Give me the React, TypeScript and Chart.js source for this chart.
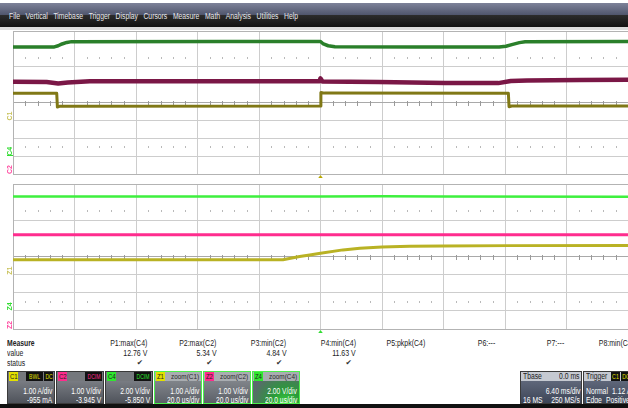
import React, { useEffect, useRef } from "react";
import { Chart, registerables } from "chart.js";
Chart.register(...registerables);

// ---------- channel settings (V or A per division, offsets) ----------
const c1PerDiv = 1.0; // A/div
const c1Offset = -0.955; // A
const c2PerDiv = 1.0; // V/div
const c2Offset = -3.945; // V
const c4PerDiv = 2.0; // V/div
const c4Offset = -5.85; // V

// ---------- top grid: 6.40 ms/div, trigger at centre (ms) ----------
const topTimeRange = [-32, 32];
const c1TopTime = [-32, -27.45, -27.38, -27.1, -0.02, 0.04, 0.4, 19.55, 19.62, 19.9, 32];
const c1TopAmp = [1.47, 1.47, 0.7, 0.75, 0.76, 1.52, 1.48, 1.47, 0.72, 0.76, 0.76];
const c2TopTime = [-32, -28.5, -27.3, -26.3, -24, -12, -0.1, 0, 0.2, 6, 13, 18.5, 19.8, 21.5, 27, 32];
const c2TopVolt = [5.1, 5.09, 5.01, 5.06, 5.13, 5.14, 5.13, 5.3, 5.12, 5.09, 5.03, 5.03, 5.15, 5.18, 5.2, 5.22];
const c4TopTime = [-32, -27.7, -27.3, -26.9, -26.4, -25.9, -10, 0, 0.3, 0.8, 1.5, 10, 18.6, 19.3, 20.0, 20.7, 21.3, 32];
const c4TopVolt = [12.06, 12.07, 12.2, 12.4, 12.57, 12.66, 12.68, 12.68, 12.4, 12.2, 12.08, 12.05, 12.05, 12.15, 12.35, 12.55, 12.65, 12.68];

// ---------- bottom grid: zooms, 20.0 µs/div (µs) ----------
const zoomTimeRange = [-100, 100];
const z1Time = [-100, -60, -20, -12.2, -6.8, -3.5, 0, 7.3, 12.8, 20, 29, 40, 61.5, 100];
const z1Amp = [0.77, 0.77, 0.77, 0.78, 0.95, 1.04, 1.14, 1.32, 1.41, 1.485, 1.525, 1.54, 1.555, 1.56];
const z2Time = [-100, -50, 0, 50, 100];
const z2Volt = [5.14, 5.14, 5.14, 5.14, 5.14];
const z4Time = [-100, -40, -20, 0, 20, 40, 100];
const z4Volt = [12.46, 12.46, 12.47, 12.48, 12.49, 12.47, 12.43];

// ---------- grid description (divisions, 0 = bottom) ----------
const gridRows = [0, 1, 2, 3, 4, 6, 8];
const dotRows = [1.5, 6.5];
const tickRow = 4;

// ---------- texts ----------
const menuItems = ["File", "Vertical", "Timebase", "Trigger", "Display", "Cursors", "Measure", "Math", "Analysis", "Utilities", "Help"];
const measureNames = ["P1:max(C4)", "P2:max(C2)", "P3:min(C2)", "P4:min(C4)", "P5:pkpk(C4)", "P6:---", "P7:---", "P8:min(C4)"];
const measureValues = ["12.76 V", "5.34 V", "4.84 V", "11.63 V", "", "", "", ""];
const measureStatus = [true, true, true, true, false, false, false, false];
const boxIds = ["C1", "C2", "C4", "Z1", "Z2", "Z4"];
const boxTags = [["BWL", "DC"], ["DCIM"], ["DCIM"], [], [], []];
const boxTitles = ["", "", "", "zoom(C1)", "zoom(C2)", "zoom(C4)"];
const boxLine1 = ["1.00 A/div", "1.00 V/div", "2.00 V/div", "1.00 A/div", "1.00 V/div", "2.00 V/div"];
const boxLine2 = ["-955 mA", "-3.945 V", "-5.850 V", "20.0 µs/div", "20.0 µs/div", "20.0 µs/div"];

const COL = { c1: "#e2e000", c2: "#ff2a8c", c4: "#2ee82e" };
const FONT = "'Liberation Sans', Arial, sans-serif";

const sq = (k: number, origin: string): React.CSSProperties => ({
  display: "inline-block",
  transform: `scaleX(${k})`,
  transformOrigin: origin,
  whiteSpace: "nowrap",
});

const pts = (t: number[], v: number[]) => t.map((x, i) => ({ x, y: v[i] }));
const chAxis = (offset: number, perDiv: number) => ({
  display: false,
  min: -offset - 4 * perDiv,
  max: -offset + 4 * perDiv,
});

const scopeDecor = {
  id: "scopeDecor",
  beforeDatasetsDraw(chart: any) {
    const o = chart.options.plugins.scopeDecor;
    if (!o) return;
    const { ctx, scales } = chart;
    const xs = scales.x;
    const yg = scales.yg;
    const divW = (xs.max - xs.min) / 10;
    ctx.save();
    ctx.fillStyle = "#b9b9b9";
    for (const row of dotRows) {
      const py = Math.round(yg.getPixelForValue(row));
      for (let d = 0; d < 10; d++)
        for (let k = 1; k < 5; k++) {
          const px = Math.round(xs.getPixelForValue(xs.min + (d + k / 5) * divW));
          ctx.fillRect(px, py - 1, 1, 2);
        }
    }
    const pc = Math.round(yg.getPixelForValue(tickRow));
    ctx.fillStyle = "#9a9a9a";
    for (let d = 0; d < 10; d++)
      for (let k = 1; k < 5; k++) {
        const px = Math.round(xs.getPixelForValue(xs.min + (d + k / 5) * divW));
        ctx.fillRect(px, pc - 2, 1, 5);
      }
    ctx.restore();
  },
  afterDraw(chart: any) {
    const o = chart.options.plugins.scopeDecor;
    if (!o) return;
    const { ctx, scales, chartArea } = chart;
    ctx.save();
    for (const lb of o.labels) {
      const y0 = scales[lb.axis].getPixelForValue(0);
      ctx.save();
      ctx.translate(10, y0 + 1);
      ctx.rotate(-Math.PI / 2);
      ctx.font = "bold 7px " + FONT;
      ctx.fillStyle = lb.color;
      ctx.textAlign = "left";
      ctx.textBaseline = "middle";
      ctx.fillText(lb.text, 0, 0);
      ctx.restore();
      if (lb.underline) {
        ctx.fillStyle = lb.color;
        ctx.fillRect(7, Math.round(y0), 6, 1);
      }
    }
    const px = scales.x.getPixelForValue(0);
    const py = chartArea.bottom + 1;
    ctx.fillStyle = o.markerColor;
    ctx.beginPath();
    ctx.moveTo(px, py);
    ctx.lineTo(px - 3, py + 4);
    ctx.lineTo(px + 3, py + 4);
    ctx.closePath();
    ctx.fill();
    ctx.restore();
  },
};

function makeOptions(range: number[], labels: any[], markerColor: string) {
  return {
    responsive: false,
    maintainAspectRatio: false,
    animation: false as const,
    events: [],
    layout: { padding: { left: 13, right: 0, top: 3, bottom: 4 } },
    plugins: {
      legend: { display: false },
      tooltip: { enabled: false },
      scopeDecor: { labels, markerColor },
    },
    elements: { point: { radius: 0 }, line: { tension: 0, borderJoinStyle: "round" } },
    scales: {
      x: {
        type: "linear",
        min: range[0],
        max: range[1],
        afterBuildTicks: (s: any) => {
          const arr = [];
          for (let i = 0; i <= 10; i++) arr.push({ value: range[0] + (i * (range[1] - range[0])) / 10 });
          s.ticks = arr;
        },
        ticks: { display: false },
        grid: { color: "#cdcdcd", drawTicks: false, lineWidth: 1 },
        border: { display: true, color: "#b3b3b3" },
      },
      yg: {
        type: "linear",
        position: "left",
        min: 0,
        max: 8,
        afterBuildTicks: (s: any) => {
          s.ticks = gridRows.map((v) => ({ value: v }));
        },
        ticks: { display: false },
        grid: {
          drawTicks: false,
          color: (c: any) => (c.tick && c.tick.value === tickRow ? "#a9a9a9" : c.tick && (c.tick.value === 0 || c.tick.value === 8) ? "#b3b3b3" : "#cdcdcd"),
        },
        border: { display: true, color: "#b3b3b3" },
      },
      y1: chAxis(c1Offset, c1PerDiv),
      y2: chAxis(c2Offset, c2PerDiv),
      y4: chAxis(c4Offset, c4PerDiv),
    },
  };
}

function Box({ i }: { i: number }) {
  const id = boxIds[i];
  const isZoom = id.startsWith("Z");
  const color = id.endsWith("1") ? COL.c1 : id.endsWith("2") ? COL.c2 : COL.c4;
  const last = id === "Z4";
  return (
    <div
      style={{
        position: "absolute",
        left: 7 + i * 49,
        top: 371,
        width: 48,
        height: 33,
        boxSizing: "border-box",
        border: isZoom ? "1px solid #4cf04c" : "1px solid #3a3a3a",
        background: last
          ? "radial-gradient(ellipse at 70% 115%, #3fe23f 0%, #2a9a3a 35%, #5e6670 80%)"
          : isZoom
          ? "linear-gradient(#8f9398, #5c6068)"
          : "linear-gradient(#8a8d93, #4f535b)",
        color: "#fff",
        fontFamily: FONT,
        fontSize: 8.5,
        overflow: "hidden",
      }}
    >
      <div style={{ position: "absolute", left: 0, top: 0, right: 0, height: 9, background: isZoom ? "#a9adb1" : "#75787d" }} />
      <div style={{ position: "absolute", left: 1, top: 0, width: 9, height: 9, background: color, color: "#222", fontSize: 7.5, lineHeight: "9px", textAlign: "center" }}>
        <span style={sq(0.8, "center")}>{id}</span>
      </div>
      {boxTags[i].length > 0 && (
        <div style={{ position: "absolute", right: 1, top: 0, display: "flex", gap: 1 }}>
          {boxTags[i].map((t) => (
            <span key={t} style={{ background: "#111", color, fontSize: 7, lineHeight: "9px", width: t.length > 2 ? 17 : 9, textAlign: "center", overflow: "hidden" }}>
              <span style={sq(0.72, "center")}>{t}</span>
            </span>
          ))}
        </div>
      )}
      {boxTitles[i] && (
        <div style={{ position: "absolute", right: 2, top: 0, fontSize: 8, lineHeight: "9px", color: "#2a2a2a" }}>
          <span style={sq(0.8, "right")}>{boxTitles[i]}</span>
        </div>
      )}
      <div style={{ position: "absolute", right: 2, top: 15, lineHeight: "9px" }}>
        <span style={sq(0.78, "right")}>{boxLine1[i]}</span>
      </div>
      <div style={{ position: "absolute", right: 2, top: 24, lineHeight: "9px" }}>
        <span style={sq(0.78, "right")}>{boxLine2[i]}</span>
      </div>
    </div>
  );
}

export default function App() {
  const topRef = useRef<HTMLCanvasElement>(null);
  const botRef = useRef<HTMLCanvasElement>(null);

  useEffect(() => {
    const top = new Chart(topRef.current as HTMLCanvasElement, {
      type: "line",
      data: {
        datasets: [
          { label: "C4", data: pts(c4TopTime, c4TopVolt), yAxisID: "y4", borderColor: "#2a7f2a", borderWidth: 3.5 },
          { label: "C2", data: pts(c2TopTime, c2TopVolt), yAxisID: "y2", borderColor: "#7a1746", borderWidth: 4.5 },
          { label: "C1", data: pts(c1TopTime, c1TopAmp), yAxisID: "y1", borderColor: "#807816", borderWidth: 3 },
        ],
      },
      options: makeOptions(
        topTimeRange,
        [
          { text: "C1", color: "#c9c25a", axis: "y1" },
          { text: "C4", color: "#33dd33", axis: "y4", underline: true },
          { text: "C2", color: "#ff4aa0", axis: "y2" },
        ],
        "#b8a800"
      ) as any,
      plugins: [scopeDecor],
    });
    const bot = new Chart(botRef.current as HTMLCanvasElement, {
      type: "line",
      data: {
        datasets: [
          { label: "Z4", data: pts(z4Time, z4Volt), yAxisID: "y4", borderColor: "#3ef03e", borderWidth: 2.5 },
          { label: "Z2", data: pts(z2Time, z2Volt), yAxisID: "y2", borderColor: "#ff2d8e", borderWidth: 3 },
          { label: "Z1", data: pts(z1Time, z1Amp), yAxisID: "y1", borderColor: "#b9b224", borderWidth: 3 },
        ],
      },
      options: makeOptions(
        zoomTimeRange,
        [
          { text: "Z1", color: "#c9c25a", axis: "y1" },
          { text: "Z4", color: "#33dd33", axis: "y4" },
          { text: "Z2", color: "#ff4aa0", axis: "y2" },
        ],
        "#33dd33"
      ) as any,
      plugins: [scopeDecor],
    });
    return () => {
      top.destroy();
      bot.destroy();
    };
  }, []);

  const colRight = (i: number) => 147 + i * 69.6;

  return (
    <div style={{ position: "fixed", left: 0, top: 0, width: 628, height: 408, overflow: "hidden", background: "#fff", fontFamily: FONT }}>
      {/* menu bar */}
      <div style={{ position: "absolute", left: 0, top: 3, width: 628, height: 12, background: "linear-gradient(#7d8299, #4f556c)" }} />
      <div style={{ position: "absolute", left: 0, top: 15, width: 628, height: 12, background: "linear-gradient(#2c2c2c, #121212)" }} />
      <div style={{ position: "absolute", left: 0, top: 27, width: 628, height: 3, background: "#dcdcdc" }} />
      <div style={{ position: "absolute", left: 9, top: 11, display: "flex", gap: 7, fontSize: 8.5, lineHeight: "10px", color: "#e9e9ee", transform: "scaleX(0.8)", transformOrigin: "left", whiteSpace: "nowrap" }}>
        {menuItems.map((m) => (
          <span key={m}>{m}</span>
        ))}
      </div>

      <canvas ref={topRef} width={628} height={150} style={{ position: "absolute", left: 0, top: 28, width: 628, height: 150 }} />
      <canvas ref={botRef} width={628} height={152} style={{ position: "absolute", left: 0, top: 181, width: 628, height: 152 }} />

      {/* measurement table */}
      <div style={{ position: "absolute", left: 7, top: 338, fontSize: 8.5, lineHeight: "10px", color: "#222" }}>
        <div><span style={{ ...sq(0.8, "left"), fontWeight: "bold" }}>Measure</span></div>
        <div><span style={sq(0.8, "left")}>value</span></div>
        <div><span style={sq(0.8, "left")}>status</span></div>
      </div>
      {measureNames.map((n, i) => (
        <div key={n} style={{ position: "absolute", left: colRight(i) - 69, width: 69, top: 338, textAlign: "right", fontSize: 8.5, lineHeight: "10px", color: "#222" }}>
          <div><span style={sq(0.82, "right")}>{n}</span></div>
          <div><span style={sq(0.82, "right")}>{measureValues[i] || "\u00a0"}</span></div>
          <div style={{ fontFamily: "'DejaVu Sans', sans-serif", fontSize: 7.5, paddingRight: 4, color: "#333" }}>{measureStatus[i] ? "\u2714" : "\u00a0"}</div>
        </div>
      ))}

      {/* channel descriptor boxes */}
      {boxIds.map((_, i) => (
        <Box key={i} i={i} />
      ))}

      {/* timebase */}
      <div style={{ position: "absolute", left: 520, top: 371, width: 62, height: 33, boxSizing: "border-box", border: "1px solid #3a3a3a", background: "linear-gradient(#6d7588, #3d4557)", color: "#fff", fontSize: 8.5, overflow: "hidden" }}>
        <div style={{ position: "absolute", left: 0, right: 0, top: 0, height: 9, background: "#c5c9d1", color: "#222" }}>
          <span style={{ position: "absolute", left: 2, lineHeight: "9px" }}><span style={sq(0.8, "left")}>Tbase</span></span>
          <span style={{ position: "absolute", right: 1, lineHeight: "9px" }}><span style={sq(0.8, "right")}>0.0 ms</span></span>
        </div>
        <div style={{ position: "absolute", right: 1, top: 15, lineHeight: "9px" }}><span style={sq(0.8, "right")}>6.40 ms/div</span></div>
        <div style={{ position: "absolute", left: 2, top: 24, lineHeight: "9px" }}><span style={sq(0.8, "left")}>16 MS</span></div>
        <div style={{ position: "absolute", right: 1, top: 24, lineHeight: "9px" }}><span style={sq(0.8, "right")}>250 MS/s</span></div>
      </div>
      {/* trigger */}
      <div style={{ position: "absolute", left: 583, top: 371, width: 62, height: 33, boxSizing: "border-box", border: "1px solid #3a3a3a", background: "linear-gradient(#6d7588, #3d4557)", color: "#fff", fontSize: 8.5, overflow: "hidden" }}>
        <div style={{ position: "absolute", left: 0, right: 0, top: 0, height: 9, background: "#c5c9d1", color: "#222" }}>
          <span style={{ position: "absolute", left: 2, lineHeight: "9px" }}><span style={sq(0.8, "left")}>Trigger</span></span>
          <span style={{ position: "absolute", left: 27, top: 0, width: 9, background: "#111", color: COL.c1, fontSize: 7, lineHeight: "9px", textAlign: "center" }}><span style={sq(0.75, "center")}>C1</span></span>
          <span style={{ position: "absolute", left: 37, top: 0, width: 9, background: "#111", color: COL.c1, fontSize: 7, lineHeight: "9px", textAlign: "center" }}><span style={sq(0.75, "center")}>DC</span></span>
        </div>
        <div style={{ position: "absolute", left: 2, top: 15, lineHeight: "9px" }}><span style={sq(0.8, "left")}>Normal</span></div>
        <div style={{ position: "absolute", left: 28, top: 15, lineHeight: "9px" }}><span style={sq(0.8, "left")}>1.12 A</span></div>
        <div style={{ position: "absolute", left: 2, top: 24, lineHeight: "9px" }}><span style={sq(0.8, "left")}>Edge</span></div>
        <div style={{ position: "absolute", left: 22, top: 24, lineHeight: "9px" }}><span style={sq(0.8, "left")}>Positive</span></div>
      </div>

      <div style={{ position: "absolute", left: 0, top: 404, width: 628, height: 4, background: "#111" }} />
    </div>
  );
}
